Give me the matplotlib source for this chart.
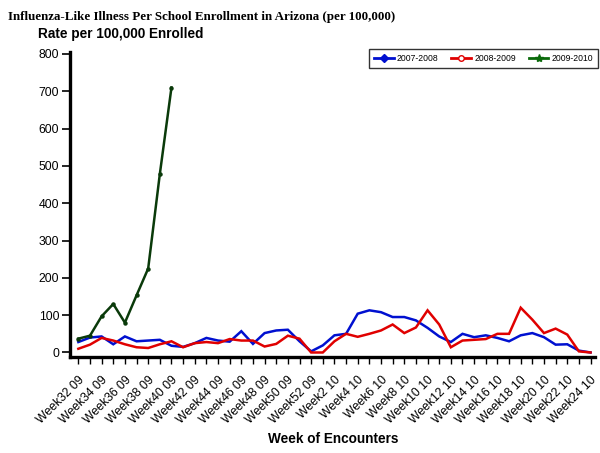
import matplotlib
matplotlib.use("Agg")
import matplotlib.pyplot as plt
from matplotlib.lines import Line2D

weeks = [f"Week{w} 09" for w in range(32, 53)] + [f"Week{w} 10" for w in range(1, 25)]

s2007 = [28, 40, 43, 22, 43, 30, 32, 34, 18, 15, 25, 39, 32, 29, 57,
         23, 52, 59, 61, 30, 3, 19, 46, 50, 104, 113, 108, 95, 95, 86,
         66, 43, 28, 50, 41, 46, 39, 30, 46, 52, 41, 21, 22, 5, 0]
s2008 = [10, 21, 39, 32, 22, 14, 12, 22, 30, 14, 25, 28, 25, 36, 32,
         32, 16, 23, 45, 37, 0, 0, 30, 50, 42, 50, 59, 75, 52, 67,
         113, 75, 14, 32, 34, 36, 50, 50, 120, 88, 52, 64, 48, 3, 0]
s2009 = [37, 45, 97, 130, 80, 153, 225, 478, 710]

series_names = ["2007-2008", "2008-2009", "2009-2010"]
yticks = [0, 100, 200, 300, 400, 500, 600, 700, 800]

blue = "#0010d0"
red = "#e00000"
green = "#0a3a0a"

fig = plt.figure(figsize=(6.0, 4.53), dpi=100)
ax = fig.add_axes([0.116, 0.212, 0.876, 0.673])

x = list(range(len(weeks)))
ax.plot(x, s2007, color=blue, lw=1.8, solid_joinstyle="miter")
ax.plot(x, s2008, color=red, lw=1.8, solid_joinstyle="miter")
ax.plot(x[:len(s2009)], s2009, color=green, lw=1.8, marker="o", ms=2.2,
        markerfacecolor=green, markeredgecolor=green)

ax.set_xlim(-0.75, 44.4)
ax.set_ylim(-12, 805)
ax.set_yticks(yticks)
ax.set_yticklabels([str(v) for v in yticks], fontsize=8.8, family="Liberation Sans")
ax.set_xticks(x)
ax.set_xticklabels([w if i % 2 == 0 else "" for i, w in enumerate(weeks)],
                   rotation=45, ha="right", rotation_mode="anchor",
                   fontsize=8.8, family="Liberation Sans")
ax.tick_params(axis="x", direction="out", length=5, width=1, pad=7)
ax.tick_params(axis="y", direction="out", length=6, width=1.2, pad=1.5)

for s in ["top", "right"]:
    ax.spines[s].set_visible(False)
ax.spines["left"].set_linewidth(2.4)
ax.spines["bottom"].set_linewidth(2.4)

fig.text(0.014, 0.975, "Influenza-Like Illness Per School Enrollment in Arizona (per 100,000)",
         fontsize=9.4, fontweight="bold", family="Liberation Serif", va="top", ha="left")
fig.text(0.063, 0.924, "Rate per 100,000 Enrolled", fontsize=9.8, fontweight="bold",
         family="Liberation Sans", va="center", ha="left")
fig.text(0.555, 0.016, "Week of Encounters", fontsize=9.8, fontweight="bold",
         family="Liberation Sans", va="bottom", ha="center")

handles = [
    Line2D([], [], color=blue, lw=2, marker="D", ms=4),
    Line2D([], [], color=red, lw=2, marker="o", ms=4, markerfacecolor="white"),
    Line2D([], [], color="#0a6a0a", lw=2, marker="*", ms=6),
]
leg = ax.legend(handles, series_names, ncol=3, loc="upper right",
                bbox_to_anchor=(1.005, 1.01), prop={"family": "Liberation Sans", "size": 6.2},
                frameon=True, fancybox=False, handlelength=2.3, columnspacing=1.5,
                borderpad=0.55, handletextpad=0.35, borderaxespad=0.0)
leg.get_frame().set_edgecolor("black")
leg.get_frame().set_linewidth(1.0)

fig.savefig("out.png", dpi=100)
